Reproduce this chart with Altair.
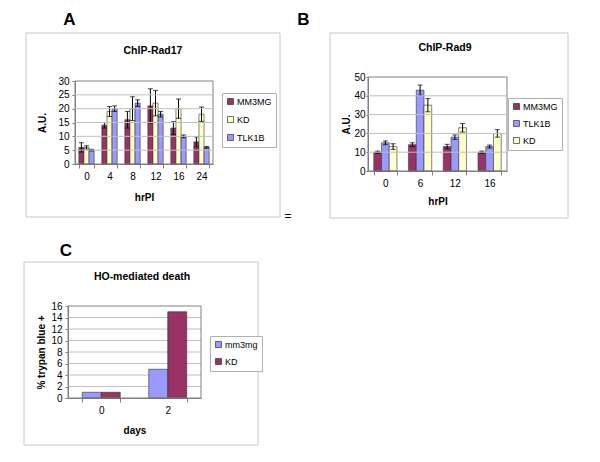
import altair as alt
import pandas as pd

FONT = "Liberation Sans"
MAROON = "#993366"
YELLOW = "#FFFFCC"
BLUE = "#9999FF"

# ---------------- Panel A : ChIP-Rad17 ----------------
a_times = ["0", "4", "8", "12", "16", "24"]
a_series = ["MM3MG", "KD", "TLK1B"]
a_mm3mg = [6, 14, 16, 21, 13, 8]
a_mm3mg_err = [1.7, 1.0, 3.0, 6.2, 2.3, 1.8]
a_kd = [6, 19, 20, 22, 20, 18]
a_kd_err = [0.6, 1.8, 4.3, 4.6, 3.5, 2.6]
a_tlk1b = [5, 20, 22, 18, 10, 6]
a_tlk1b_err = [0.3, 1.0, 1.2, 1.0, 0.5, 0.3]
a_yticks = [0, 5, 10, 15, 20, 25, 30]

# ---------------- Panel B : ChIP-Rad9 ----------------
b_times = ["0", "6", "12", "16"]
b_series = ["MM3MG", "TLK1B", "KD"]
b_mm3mg = [10, 14, 13, 10]
b_mm3mg_err = [0.6, 1.0, 1.2, 0.6]
b_tlk1b = [15, 43, 18, 13]
b_tlk1b_err = [1.0, 2.7, 1.2, 0.8]
b_kd = [13, 35, 23, 20]
b_kd_err = [1.5, 3.5, 2.3, 2.0]
b_yticks = [0, 10, 20, 30, 40, 50]

# ---------------- Panel C : HO-mediated death ----------------
c_days = ["0", "2"]
c_series = ["mm3mg", "KD"]
c_mm3mg = [1, 5]
c_kd = [1, 15]
c_yticks = [0, 2, 4, 6, 8, 10, 12, 14, 16]


def long_table(cats, names, values, errors):
    rows = []
    for s, vals, errs in zip(names, values, errors):
        for t, v, e in zip(cats, vals, errs):
            rows.append({"t": t, "s": s, "v": v, "lo": v - e, "hi": v + e})
    return pd.DataFrame(rows)


def one():
    return alt.Data(values=[{"k": 1}])


def deco_rect(x1, y1, x2, y2, **kw):
    return alt.Chart(one()).mark_rect(**kw).encode(
        x=alt.value(x1), x2=alt.value(x2), y=alt.value(y1), y2=alt.value(y2)
    )


def deco_text(txt, x, y, size, weight="bold"):
    return alt.Chart(one()).mark_text(
        font=FONT, fontSize=size, fontWeight=weight, align="center",
        baseline="middle", color="black"
    ).encode(x=alt.value(x), y=alt.value(y), text=alt.value(txt))


def panel(df, cats, series, colors, yticks, cell, plot, pad, xtitle, ytitle,
          ytitle_x, xtitle_y, frame, title, title_pos, letter, letter_pos,
          legend_pos, legend_font, legend_rows, ytick_size=3, ylabel_pad=3,
          errors=True, extra=None):
    cw, ch = cell
    px1, py1, px2, py2 = plot
    x = alt.X(
        "t:N", sort=cats, title=xtitle,
        scale=alt.Scale(range=[px1, px2], paddingInner=pad,
                        paddingOuter=pad / 2),
        axis=alt.Axis(labelAngle=0, tickBand="extent", tickSize=4,
                      labelPadding=3, titleX=(px1 + px2) / 2,
                      titleY=xtitle_y, titleBaseline="middle",
                      domainColor="#808080", tickColor="#808080",
                      offset=py2 - ch),
    )
    xo = alt.XOffset("s:N", sort=series,
                     scale=alt.Scale(paddingInner=0, paddingOuter=0))

    def yenc(field):
        return alt.Y(
            field + ":Q", title=ytitle,
            scale=alt.Scale(domain=[yticks[0], yticks[-1]], nice=False,
                            range=[py2, py1]),
            axis=alt.Axis(values=yticks, grid=False, labelOverlap=False,
                          tickSize=ytick_size, labelPadding=ylabel_pad,
                          titleX=ytitle_x, titleY=(py1 + py2) / 2,
                          titleBaseline="middle", domainColor="#808080",
                          tickColor="#808080", offset=-px1),
        )

    color = alt.Color(
        "s:N", sort=series, title=None,
        scale=alt.Scale(domain=series, range=colors),
        legend=alt.Legend(orient="none", legendX=legend_pos[0],
                          legendY=legend_pos[1], strokeColor="#b0b0b0",
                          fillColor="white", padding=4, symbolType="square",
                          symbolSize=36, symbolStrokeColor="#333333",
                          symbolStrokeWidth=0.7, labelFont=FONT,
                          labelFontSize=legend_font, labelColor="black",
                          rowPadding=legend_rows, symbolOffset=0,
                          labelOffset=2),
    )
    grid_df = pd.DataFrame({"g": yticks[1:-1]})
    grid = alt.Chart(grid_df).mark_rule(
        color="#c0c0c0", strokeWidth=1).encode(
        y=yenc("g"), x=alt.value(px1), x2=alt.value(px2))
    base = alt.Chart(df)
    layers = [
        deco_rect(*frame, fillOpacity=0, stroke="#c8c8c8", strokeWidth=1),
    ]
    if not errors:
        layers.append(grid)
    layers += [
        base.mark_bar(stroke="#333333", strokeWidth=0.6).encode(
            x=x, xOffset=xo, y=yenc("v"), color=color),
        deco_rect(px1, py1, px2, py2, fillOpacity=0, stroke="#808080",
                  strokeWidth=1),
    ]
    if errors:
        layers += [
            base.mark_rule(color="black", strokeWidth=1).encode(
                x=x, xOffset=xo, y=yenc("lo"), y2="hi:Q"),
            base.mark_tick(color="black", size=5, thickness=1).encode(
                x=x, xOffset=xo, y=yenc("hi")),
            base.mark_tick(color="black", size=5, thickness=1).encode(
                x=x, xOffset=xo, y=yenc("lo")),
        ]
    layers += [
        deco_text(title, title_pos[0], title_pos[1], 10.5),
        deco_text(letter, letter_pos[0], letter_pos[1], 17),
    ]
    if extra is not None:
        layers.append(extra)
    if errors:
        layers.append(grid)
    return alt.layer(*layers).properties(width=cw, height=ch)


df_a = long_table(a_times, a_series, [a_mm3mg, a_kd, a_tlk1b],
                  [a_mm3mg_err, a_kd_err, a_tlk1b_err])
df_b = long_table(b_times, b_series, [b_mm3mg, b_tlk1b, b_kd],
                  [b_mm3mg_err, b_tlk1b_err, b_kd_err])
df_c = long_table(c_days, c_series, [c_mm3mg, c_kd], [[0, 0], [0, 0]])

chart_a = panel(
    df_a, a_times, a_series, [MAROON, YELLOW, BLUE], a_yticks,
    cell=(292, 224), plot=(67, 73, 205, 156), pad=1 / 3,
    xtitle="hrPI", ytitle="A.U.", ytitle_x=-33, xtitle_y=33,
    frame=(18, 25, 272, 209), title="ChIP-Rad17", title_pos=(145, 43),
    letter="A", letter_pos=(61.5, 11.5), legend_pos=(214, 85),
    legend_font=9, legend_rows=8,
    extra=deco_text("=", 280, 208, 12, "normal"),
)
chart_b = panel(
    df_b, b_times, b_series, [MAROON, BLUE, YELLOW], b_yticks,
    cell=(290, 224), plot=(68, 69, 207, 163), pad=1 / 3,
    xtitle="hrPI", ytitle="A.U.", ytitle_x=-22, xtitle_y=30,
    frame=(30, 25, 268, 210), title="ChIP-Rad9", title_pos=(145, 40),
    letter="B", letter_pos=(3.5, 11.5), legend_pos=(208, 90),
    legend_font=9, legend_rows=7, ytick_size=2, ylabel_pad=1,
)
chart_c = panel(
    df_c, c_days, c_series, [BLUE, MAROON], c_yticks,
    cell=(292, 220), plot=(60, 74, 193, 166), pad=1.5 / 3.5,
    xtitle="days", ytitle="% trypan blue +", ytitle_x=-27, xtitle_y=32,
    frame=(16, 30, 250, 213), title="HO-mediated death", title_pos=(134, 45),
    letter="C", letter_pos=(58, 19), legend_pos=(202, 104),
    legend_font=9, legend_rows=7, errors=False,
)

chart = alt.concat(
    chart_a, chart_b, chart_c, columns=2, spacing=0, bounds="flush",
).resolve_scale(
    color="independent", x="independent", y="independent",
    xOffset="independent",
).properties(
    padding=0
).configure_view(
    strokeOpacity=0
).configure_axis(
    labelFont=FONT, labelFontSize=10, labelColor="black",
    titleFont=FONT, titleFontSize=10, titleFontWeight="bold",
    titleColor="black",
)

chart.save("out.html", embed_options={"renderer": "svg", "actions": False})
